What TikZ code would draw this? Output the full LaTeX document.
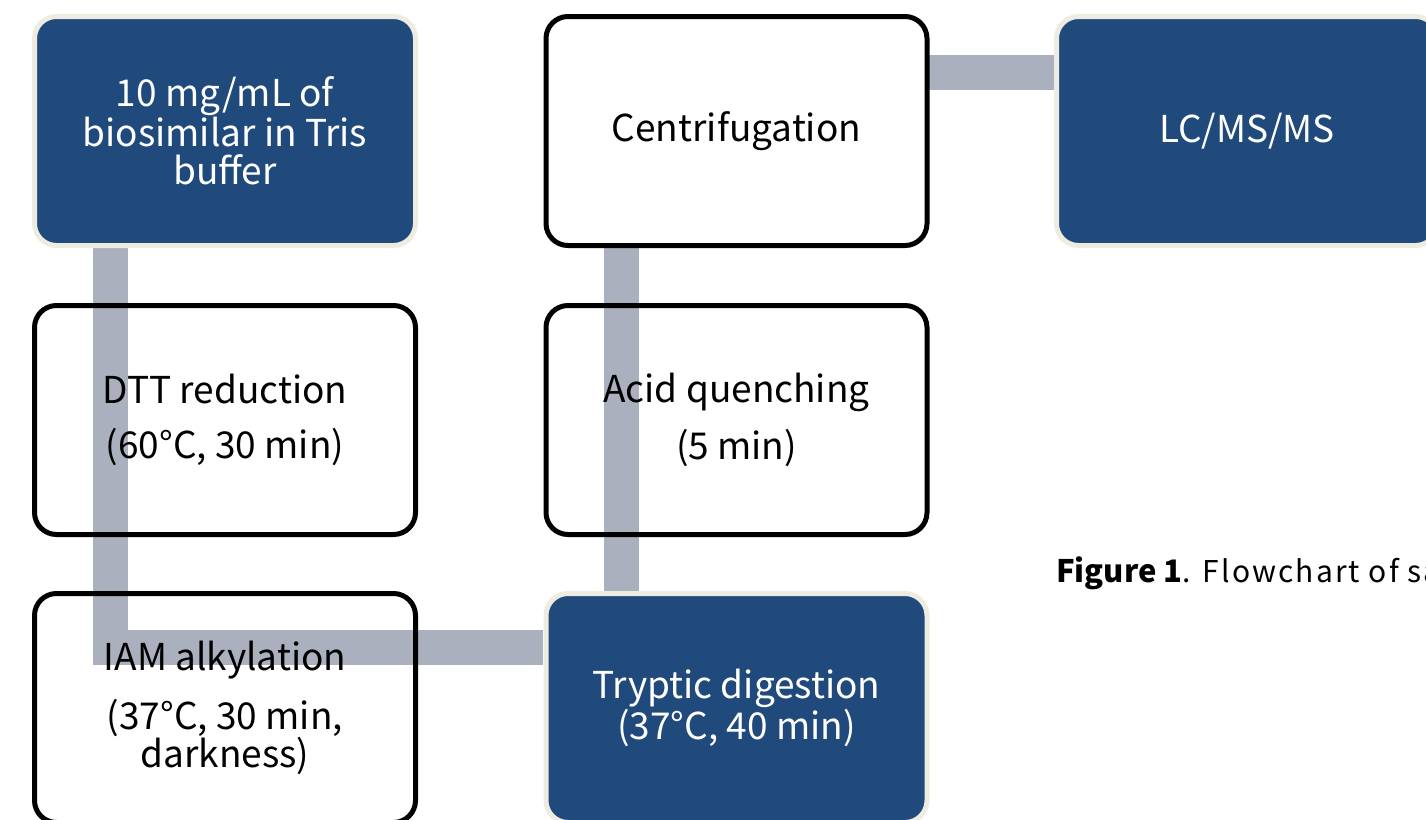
\documentclass[tikz,border=0pt]{standalone}
\usepackage{fontspec}
\setmainfont{Noto Sans CJK JP}
\usetikzlibrary{positioning}
\definecolor{boxblue}{HTML}{214A7C}
\definecolor{cream}{HTML}{EEECE1}
\definecolor{linkgray}{HTML}{AAB0BE}
\tikzset{
  stepbase/.style={rectangle, rounded corners=22pt, minimum width=381pt, minimum height=229pt, line width=5pt, align=center, inner sep=0pt},
  bluebox/.style={stepbase, fill=boxblue, draw=cream, text=white, font=\fontsize{37}{38}\selectfont},
  whitebox/.style={stepbase, draw=black, text=black, font=\fontsize{37}{38}\selectfont},
  link/.style={draw=linkgray, line width=35pt, line join=miter},
}
\begin{document}
\begin{tikzpicture}[x=1pt,y=-1pt]
\useasboundingbox (0,0) rectangle (1426,819);
\clip (0,0) rectangle (1426,819);
% connector coordinates
\coordinate (c1) at (110,647);
\coordinate (a1) at (110,246);
\coordinate (a2) at (543,647);
\coordinate (b1) at (621.5,592);
\coordinate (b2) at (621.5,246);
\coordinate (d1) at (927,72);
\coordinate (d2) at (1057,72);
\draw[link] (a1) -- (c1) -- (a2);
\draw[link] (b1) -- (b2);
\draw[link] (d1) -- (d2);
% boxes
\node[bluebox] (n1) at (225,131) {10 mg/mL of\\biosimilar in Tris\\buffer};
\node[whitebox] (n2) at (225,420) {DTT reduction\\[17pt](60°C, 30 min)};
\node[whitebox] (n3) at (225,708) {IAM alkylation\\[19pt](37°C, 30 min,\\darkness)};
\node[bluebox] (n4) at (736.5,708) {Tryptic digestion\\(37°C, 40 min)};
\node[whitebox] (n5) at (736.5,420) {Acid quenching\\[16pt](5 min)};
\node[whitebox] (n6) at (736.5,131) {Centrifugation};
\node[bluebox] (n7) at (1247,131) {LC/MS/MS};
\node[anchor=west, inner sep=0pt, font=\fontsize{30}{32}\selectfont] (cap) at (1056,573) {{\fontsize{31}{32}\selectfont\bfseries Figure 1}{\addfontfeature{LetterSpace=7}. Flowchart of sa}};
\end{tikzpicture}
\end{document}
